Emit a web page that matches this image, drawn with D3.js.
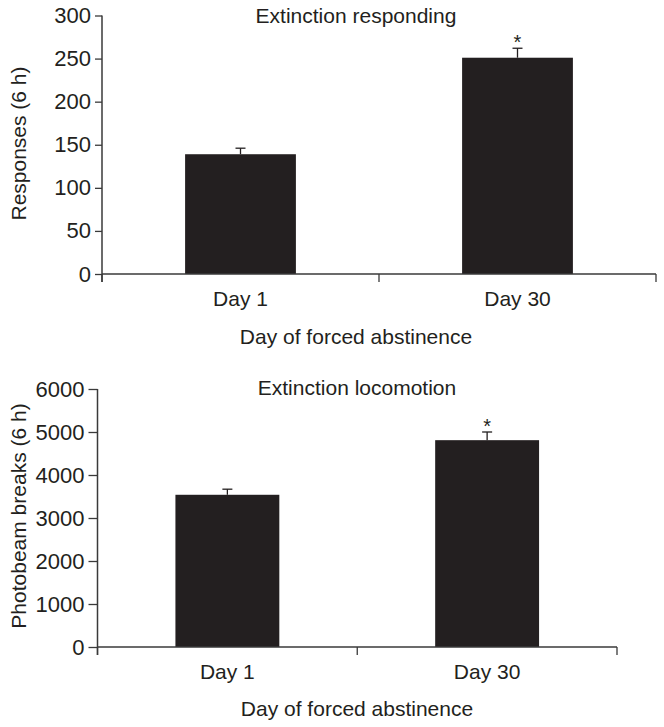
<!DOCTYPE html>
<html>
<head>
<meta charset="utf-8">
<script src="https://cdn.jsdelivr.net/npm/d3@7"></script>
<style>
  html, body { margin: 0; padding: 0; background: #fff; }
  svg text { font-family: "Liberation Sans", Arial, Helvetica, sans-serif; fill: #231f20; }
</style>
</head>
<body>
<svg id="chart" width="664" height="727"></svg>
<script>
// ---- Data ----
const categories = ["Day 1", "Day 30"];

// Panel A: extinction responding
const respondingMeans = [139, 251];
const respondingSEM = [7, 11];
const respondingSig = [false, true];
const respondingTicks = [0, 50, 100, 150, 200, 250, 300];

// Panel B: extinction locomotion
const locomotionMeans = [3540, 4810];
const locomotionSEM = [130, 190];
const locomotionSig = [false, true];
const locomotionTicks = [0, 1000, 2000, 3000, 4000, 5000, 6000];

const xTitle = "Day of forced abstinence";

// ---- Layout ----
const panels = [
  { title: "Extinction responding", yTitle: "Responses (6 h)",
    means: respondingMeans, sem: respondingSEM, sig: respondingSig, ticks: respondingTicks,
    x0: 102, x1: 656, yBottom: 274, yTop: 15.5, tickLen: 7, tickPad: 4,
    titleY: 23, tickLabelY: 306, xTitleY: 344, yTitleX: 26, yTitleY: 143.5, textCx: 356 },
  { title: "Extinction locomotion", yTitle: "Photobeam breaks (6 h)",
    means: locomotionMeans, sem: locomotionSEM, sig: locomotionSig, ticks: locomotionTicks,
    x0: 97.5, x1: 617, yBottom: 647, yTop: 389, tickLen: 9, tickPad: 4,
    titleY: 395, tickLabelY: 679, xTitleY: 716, yTitleX: 26, yTitleY: 516, textCx: 357 }
];

const svg = d3.select("#chart");
const ink = "#231f20";
const axisInk = "#3a3a3a";

panels.forEach(p => {
  const g = svg.append("g");
  const maxV = p.ticks[p.ticks.length - 1];
  const y = d3.scaleLinear().domain([0, maxV]).range([p.yBottom, p.yTop]);
  const x = d3.scaleBand().domain(categories).range([p.x0, p.x1])
    .paddingInner(0.6).paddingOuter(0.3);

  // bars
  g.selectAll("rect.bar").data(p.means).enter().append("rect")
    .attr("class", "bar")
    .attr("x", (d, i) => x(categories[i]))
    .attr("width", x.bandwidth())
    .attr("y", d => y(d))
    .attr("height", d => y(0) - y(d))
    .attr("fill", ink);

  // error bars (upper only)
  const capW = 10;
  p.means.forEach((m, i) => {
    const cx = x(categories[i]) + x.bandwidth() / 2;
    const top = y(m + p.sem[i]);
    g.append("line").attr("x1", cx).attr("x2", cx)
      .attr("y1", y(m)).attr("y2", top)
      .attr("stroke", ink).attr("stroke-width", 1.3);
    g.append("line").attr("x1", cx - capW / 2).attr("x2", cx + capW / 2)
      .attr("y1", top).attr("y2", top)
      .attr("stroke", ink).attr("stroke-width", 1.3);
    if (p.sig[i]) {
      g.append("text").attr("x", cx).attr("y", top + 1)
        .attr("text-anchor", "middle").attr("font-size", 20)
        .text("*");
    }
  });

  // y axis
  const yAxis = d3.axisLeft(y).tickValues(p.ticks).tickSize(p.tickLen).tickPadding(p.tickPad)
    .tickFormat(d3.format("d"));
  const ya = g.append("g").attr("transform", `translate(${p.x0},0)`).call(yAxis);
  ya.select(".domain").remove();
  ya.selectAll(".tick line").attr("stroke", axisInk).attr("stroke-width", 1.3);
  ya.selectAll(".tick text").attr("font-size", 22)
    .attr("font-family", '"Liberation Sans", Arial, sans-serif').attr("fill", ink);
  // y axis line extends to x tick bottom
  g.append("line").attr("x1", p.x0).attr("x2", p.x0)
    .attr("y1", y(maxV)).attr("y2", p.yBottom + 8)
    .attr("stroke", axisInk).attr("stroke-width", 1.5);

  // x axis
  g.append("line").attr("x1", p.x0).attr("x2", p.x1)
    .attr("y1", p.yBottom).attr("y2", p.yBottom)
    .attr("stroke", axisInk).attr("stroke-width", 1.5);
  const mid = (x(categories[0]) + x.bandwidth() + x(categories[1])) / 2;
  [p.x0, mid, p.x1].forEach(tx => {
    g.append("line").attr("x1", tx).attr("x2", tx)
      .attr("y1", p.yBottom).attr("y2", p.yBottom + 8)
      .attr("stroke", axisInk).attr("stroke-width", 1.3);
  });
  categories.forEach(c => {
    g.append("text").attr("x", x(c) + x.bandwidth() / 2).attr("y", p.tickLabelY)
      .attr("text-anchor", "middle").attr("font-size", 21).text(c);
  });

  // titles
  g.append("text").attr("x", p.textCx).attr("y", p.titleY)
    .attr("text-anchor", "middle").attr("font-size", 21).text(p.title);
  g.append("text").attr("x", p.textCx).attr("y", p.xTitleY)
    .attr("text-anchor", "middle").attr("font-size", 21).text(xTitle);
  g.append("text")
    .attr("transform", `translate(${p.yTitleX},${p.yTitleY}) rotate(-90)`)
    .attr("text-anchor", "middle").attr("font-size", 21).text(p.yTitle);
});
</script>
</body>
</html>
